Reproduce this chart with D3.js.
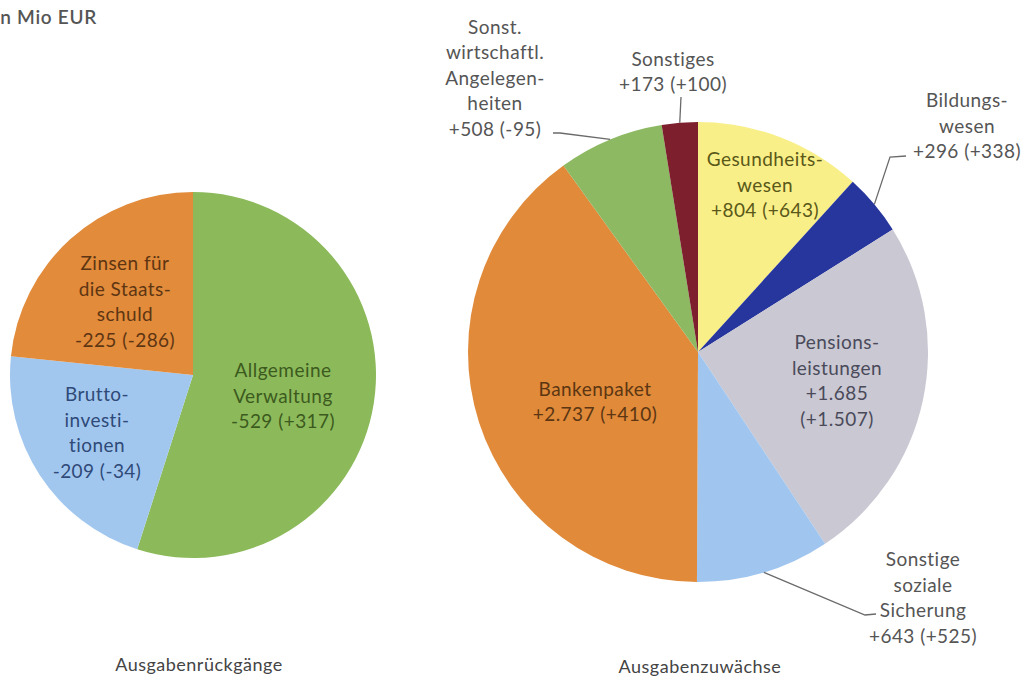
<!DOCTYPE html>
<html><head><meta charset="utf-8">
<script src="https://cdn.jsdelivr.net/npm/d3@7"></script>
<style>
body{margin:0;background:#fff}
text{font-family:Lato,"Open Sans",sans-serif}
</style>
</head><body>
<svg id="chart" width="1024" height="682"></svg>
<script>
// ---- data ----
const unitLabel = "in Mio EUR";
const leftTitle = "Ausgabenrückgänge";
const rightTitle = "Ausgabenzuwächse";

const leftCategories = [["Allgemeine","Verwaltung"],["Brutto-","investi-","tionen"],["Zinsen für","die Staats-","schuld"]];
const leftValues = [-529, -209, -225];
const leftPrev = [317, -34, -286];

const rightCategories = [["Gesundheits-","wesen"],["Bildungs-","wesen"],["Pensions-","leistungen"],["Sonstige","soziale","Sicherung"],["Bankenpaket"],["Sonst.","wirtschaftl.","Angelegen-","heiten"],["Sonstiges"]];
const rightValues = [804, 296, 1685, 643, 2737, 508, 173];
const rightPrev = [643, 338, 1507, 525, 410, -95, 100];

// ---- styles / layout ----
const leftColors = ["#8cba5b","#a2c7ef","#e18b3b"];
const leftTextColors = ["#3d5a1e","#2f4a78","#5e3512"];
const rightColors = ["#f9ef88","#27369c","#c9c8d3","#a0c6ef","#e08a3a","#8cb962","#7d1f2d"];
const rightTextColors = ["#5a5818","#555555","#4a4a5a","#555555","#5c3612","#555555","#555555"];

const loc = d3.formatLocale({decimal:",", thousands:".", grouping:[3], currency:["","€"], minus:"-"});
const fmt = loc.format("+,");
const fmtPlain = loc.format(",");

const svg = d3.select("#chart");
const fontSize = 19, lh = 25.5, ls = 0.45;

svg.append("text").attr("x", 97).attr("y", 24).attr("text-anchor","end")
  .attr("font-size", 19).attr("font-weight", 600).attr("letter-spacing", 0.7)
  .attr("fill","#555").text(unitLabel);

function drawPie(cfg){
  const g = svg.append("g").attr("transform", `translate(${cfg.cx},${cfg.cy})`);
  const pie = d3.pie().sort(null).value(d => Math.abs(d));
  const arcs = pie(cfg.values);
  const arc = d3.arc().innerRadius(0).outerRadius(cfg.r);
  g.selectAll("path.slice").data(arcs).join("path").attr("class","slice")
    .attr("d", arc).attr("fill", (d,i) => cfg.colors[i]);

  arcs.forEach((a,i) => {
    const L = cfg.layout[i];
    const valStr = (cfg.values[i] < 0 ? "-" + fmtPlain(-cfg.values[i]) : fmt(cfg.values[i]));
    const prevStr = "(" + fmt(cfg.prev[i]) + ")";
    let lines = cfg.cats[i].slice();
    if (L.split) { lines.push(valStr); lines.push(prevStr); }
    else lines.push(valStr + " " + prevStr);
    const n = lines.length;
    const t = g.append("text").attr("text-anchor","middle").attr("font-size", fontSize)
      .attr("letter-spacing", ls).attr("fill", cfg.textColors[i]);
    lines.forEach((ln, k) => {
      t.append("tspan").attr("x", L.dx).attr("y", L.dy + (k - (n-1)/2) * lh + 6.5).text(ln);
    });
    if (L.leader) {
      const mid = (a.startAngle + a.endAngle)/2;
      const p0 = [Math.sin(mid)*cfg.r, -Math.cos(mid)*cfg.r];
      const pts = [p0].concat(L.leader);
      g.append("path").attr("d", d3.line()(pts)).attr("fill","none")
        .attr("stroke","#6a6a6a").attr("stroke-width",1.3);
    }
  });
  svg.append("text").attr("x", cfg.cx + cfg.titleDx).attr("y", cfg.titleY).attr("text-anchor","middle")
    .attr("font-size", 18).attr("letter-spacing", 0.5).attr("fill","#444").text(cfg.title);
}

drawPie({
  cx:193, cy:375, r:183, values:leftValues, prev:leftPrev, cats:leftCategories,
  colors:leftColors, textColors:leftTextColors, title:leftTitle, titleDx:6, titleY:671,
  layout:[{dx:90,dy:21},{dx:-96,dy:58},{dx:-68,dy:-73}]
});

drawPie({
  cx:698, cy:352, r:230, values:rightValues, prev:rightPrev, cats:rightCategories,
  colors:rightColors, textColors:rightTextColors, title:rightTitle, titleDx:2, titleY:673,
  layout:[
    {dx:67,dy:-167},
    {dx:269,dy:-226, leader:[[192,-195],[208,-196]]},
    {dx:139,dy:29, split:true},
    {dx:225,dy:246, leader:[[167,263],[178,262]]},
    {dx:-103,dy:50},
    {dx:-203,dy:-274, leader:[[-138,-219],[-145,-219]]},
    {dx:-25,dy:-280, leader:[[-17,-255]]}
  ]
});
</script>
</body></html>
